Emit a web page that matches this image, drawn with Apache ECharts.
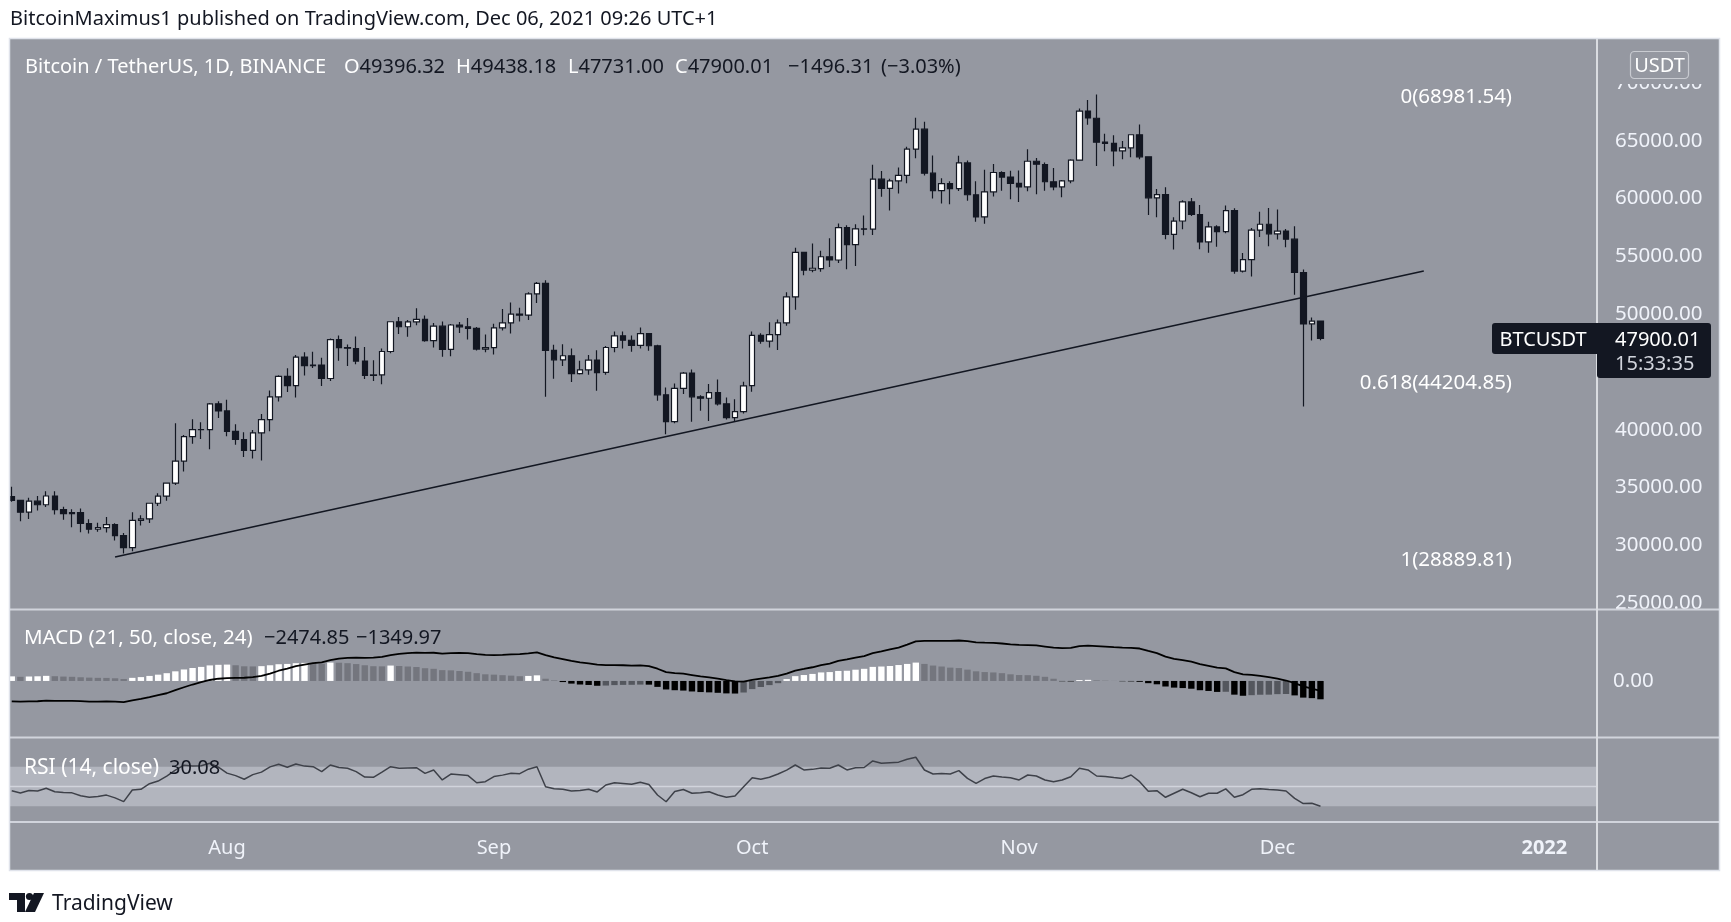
<!DOCTYPE html>
<html>
<head>
<meta charset="utf-8">
<script src="https://cdn.jsdelivr.net/npm/echarts@6/dist/echarts.min.js"></script>
<style>
html,body{margin:0;padding:0;background:#ffffff;}
#c{width:1731px;height:922px;}
</style>
</head>
<body>
<div id="c"></div>
<script>
// ---------------- DATA ----------------
const firstDay = '2021-07-07';
const lastAxisDay = '2022-01-06';

const opens = [
34198,33876,32862,33815,33502,34259,33086,32730,32820,31874,31383,31521,31778,30839,29790,32144,32287,33635,34258,35381,37277,39406,39996,40008,42236,
41626,39846,39148,38208,39723,40868,42836,44614,43819,46281,45543,45596,44428,47793,47096,47019,45936,44686,44741,46763,49339,48905,49321,49546,47706,48960,46942,49058,48897,48767,46970,
47100,48810,49246,50000,49918,51756,52666,46868,46048,46396,44842,45174,46025,44960,47111,48122,47737,47299,48307,47261,43012,40694,43575,44895,42840,42717,43208,42236,41034,41564,
43820,48165,47657,48233,49245,51493,55339,53802,53929,54953,54683,57485,56005,57367,57347,61672,60875,61528,62005,64280,66002,62194,60689,61287,60853,63078,60329,58414,60576,62253,61860,
61320,61005,63227,62944,61454,61007,61528,63326,67566,66947,64882,64775,64123,64380,65520,63610,60059,60345,56892,58057,59708,58617,56247,57541,57138,58960,53723,54716,57274,57776,
56950,57184,56484,53601,49152,49396.32];
const highs = [
35059,33929,34100,34262,34666,34679,33340,33114,33185,32249,31936,32436,31899,31063,32859,32591,33650,34500,35398,40550,39542,40900,40640,42317,42449,
42599,40459,39780,39969,41350,43392,44700,45310,46454,46700,46743,46218,47886,48144,47372,48053,47160,46000,47033,49382,49757,49500,50500,49875,49229,49368,49150,49309,49666,48888,48246,
49156,50450,51000,50558,51900,52780,52920,47340,47399,47033,45969,46460,46876,47250,48500,48500,48150,48843,48373,47345,43639,44000,45000,45200,42970,43950,44350,42790,42636,44141,
48495,48336,49300,49530,51886,55750,55339,56100,55489,56561,57839,57680,57777,58532,62933,62378,61718,62695,64486,67000,66639,63732,61747,61500,63710,63293,61496,62499,62980,62359,62405,
62419,64270,63500,63123,62638,61600,63400,67789,68530,69000,65600,65473,64990,65550,66401,63610,60833,60977,58373,59846,60050,59444,58000,57700,59398,59150,55280,57445,58865,59176,
59053,57375,57600,53859,49700,49438.18];
const lows = [
33773,32077,32261,33004,33306,32658,32202,31550,31133,31020,31164,31109,30408,29278,29482,31708,31925,33401,33851,35205,36384,38772,39201,38313,41000,
39422,38690,37642,37508,37332,39853,42446,43261,42779,44689,45341,43771,44217,45971,45500,45660,44376,44203,43927,46622,48280,48050,49029,47600,47119,46315,46360,48371,47800,46853,46700,
46512,48584,48316,49370,49500,50969,42843,44412,45513,44132,44770,44743,43370,44750,46700,47029,46750,47033,46829,42500,39600,40562,43089,40675,41646,40750,42098,40888,40753,41410,
43283,47430,47120,46891,49000,50382,53357,53617,53661,54080,54415,53879,54167,56818,56850,60150,58963,60445,61322,63481,62000,60000,59562,59510,60650,59817,58000,57820,60174,60673,59945,
59695,60624,60382,60677,60721,60111,61322,63303,66382,62822,64100,62788,63410,63577,63400,58575,58373,56474,55600,57353,58486,55610,55318,55837,57000,53500,53610,53256,56666,55875,
56458,55777,51680,42000,47727,47731.00];
const closes = [
33876,32862,33815,33502,34259,33086,32730,32820,31880,31383,31521,31778,30839,29790,32144,32287,33635,34258,35381,37277,39406,39996,40008,42236,41626,
39846,39148,38207,39723,40868,42836,44614,43819,46286,45543,45596,44428,47793,47096,47047,45936,44686,44742,46763,49339,48905,49321,49546,47706,48960,46942,49058,48897,48767,46971,47100,
48810,49246,49999,49915,51756,52663,46863,46048,46395,44850,45173,46025,44940,47111,48121,47737,47300,48314,47260,43012,40693,43575,44895,42840,42717,43208,42235,41034,41564,43790,
48165,47657,48233,49246,51493,55340,53805,53967,54963,54691,57484,56006,57367,57347,61672,60875,61528,62009,64280,66001,62194,60689,61287,60853,63078,60329,58413,60576,62253,61859,61318,
61004,63226,62971,61453,61005,61528,63327,67567,66971,64882,64774,64122,64381,65520,63607,60059,60345,56892,58052,59708,58622,56247,57541,57138,58960,53726,54721,57274,57776,56950,
57184,56480,53601,49152,49396.32,47900.01];

// MACD (21, 50, close, 24)
const macdHist = [
620,560,600,630,690,640,590,560,500,450,420,410,360,260,420,520,680,850,1050,1300,1550,1750,1900,2100,2180,
2210,2120,1980,1960,2000,2120,2260,2300,2400,2440,2420,2330,2480,2460,2400,2280,2120,1990,1970,2080,2020,1950,1880,1720,1640,1460,1430,1340,1240,1050,900,
850,780,720,640,680,760,300,80,-150,-360,-480,-540,-650,-620,-560,-530,-520,-490,-500,-800,-1150,-1250,-1300,-1420,-1500,-1540,-1600,-1680,-1700,-1560,
-1100,-820,-560,-300,250,650,800,950,1150,1200,1350,1380,1520,1640,1900,1950,2020,2150,2300,2480,2300,2080,1950,1800,1740,1530,1300,1200,1150,1050,900,
800,780,700,560,300,-40,-60,120,150,80,40,10,-40,-60,-120,-300,-450,-750,-900,-960,-1050,-1250,-1350,-1480,-1460,-1850,-2000,-1920,-1860,-1850,
-1780,-1760,-1950,-2250,-2320,-2474.85];
const macdLine = [
-2750,-2800,-2760,-2740,-2660,-2680,-2700,-2690,-2730,-2780,-2790,-2760,-2780,-2850,-2620,-2430,-2180,-1920,-1660,-1250,-850,-480,-170,130,300,
380,420,430,520,680,980,1380,1660,2000,2200,2400,2500,2800,3020,3120,3150,3130,3150,3250,3500,3650,3760,3830,3800,3810,3700,3750,3780,3760,3620,3520,
3500,3520,3580,3620,3720,3850,3500,3180,2950,2700,2500,2380,2200,2150,2150,2120,2080,2100,2000,1650,1200,1050,980,800,620,480,300,100,-60,-80,
150,320,480,680,1000,1400,1620,1850,2150,2350,2700,2900,3150,3350,3750,3980,4250,4500,4900,5350,5420,5400,5420,5400,5460,5380,5200,5170,5150,5060,4950,
4860,4850,4800,4650,4500,4420,4480,4700,4760,4700,4640,4560,4500,4480,4380,4050,3750,3280,2980,2800,2600,2280,2050,1800,1700,1200,900,820,700,520,
320,60,-300,-720,-1050,-1349.97];
// RSI (14, close)
const rsiValues = [
45.8,43.5,46.0,45.5,48.2,44.7,43.9,43.6,40.6,39.2,39.8,41.3,38.5,34.7,46.5,47.2,52.8,55.5,60.5,66.5,71.5,70.8,71.0,73.5,69.5,
63.5,61.0,57.3,62.0,64.5,69.8,72.4,69.5,72.8,70.6,70.0,65.0,71.7,69.2,68.4,65.0,59.5,59.3,64.5,70.0,68.4,68.8,69.0,63.3,66.7,56.6,62.6,61.8,61.0,53.8,54.9,
60.0,61.5,63.3,63.0,67.5,70.0,49.8,47.8,47.2,45.5,46.0,47.2,44.5,51.5,53.8,53.0,52.2,54.2,52.0,41.4,34.6,45.0,47.0,43.2,43.7,44.7,41.4,39.1,40.4,49.8,
58.9,57.3,59.3,62.6,66.5,71.7,66.7,67.3,68.8,68.4,71.7,66.7,69.0,69.2,75.8,73.4,74.1,74.6,77.5,79.5,66.7,62.6,63.2,62.6,66.0,58.2,53.2,58.0,60.6,59.6,58.9,
56.6,61.6,60.6,56.6,54.9,56.5,59.9,68.4,66.7,60.6,60.2,59.0,58.2,61.6,54.9,45.1,45.8,39.1,43.2,47.2,43.7,39.7,43.2,43.2,47.6,39.1,41.7,47.2,47.8,46.9,
46.5,45.5,38.0,32.8,33.0,30.08];

const monthLabels = {'2021-08-01':'Aug','2021-09-01':'Sep','2021-10-01':'Oct','2021-11-01':'Nov','2021-12-01':'Dec','2022-01-01':'2022'};
const yearLabels = ['2022'];
const hiddenPriceTicks = [20000, 75000];
const fibLevels = [{ratio:'0', price:68981.54},{ratio:'0.618', price:44204.85},{ratio:'1', price:28889.81}];
const fibAnchorDay = '2021-12-29';
const trendLine = [['2021-07-19', 28981], ['2021-12-18', 53730]];
const rsiBand = [30, 50, 70];
const countdownText = '15:33:35';

// ---------------- BUILD ----------------
const categories = [];
for (let t = Date.parse(firstDay + 'T00:00:00Z'); t <= Date.parse(lastAxisDay + 'T00:00:00Z'); t += 86400000) {
  categories.push(new Date(t).toISOString().slice(0, 10));
}
const candleData = opens.map((o, i) => [o, closes[i], lows[i], highs[i]]);
function histColor(i) {
  const v = macdHist[i], p = i > 0 ? macdHist[i - 1] : -Infinity;
  if (v >= 0) return v >= p ? '#FFFFFF' : '#74767E';
  return v < p ? '#000000' : '#54575E';
}
const histData = macdHist.map((v, i) => ({value: v, itemStyle: {color: histColor(i)}}));

const FONT = '"Noto Sans", sans-serif';
const WHITE = '#FFFFFF';
const LBL = '#F0F3FA';
const DARK = '#131722';
const BG = '#9598A1';
const LINE = '#D1D4DC';
const GL = 7.45, GW = 184 * 8.61;

const chart = echarts.init(document.getElementById('c'));
const hiddenAxis = {axisLine:{show:false}, axisTick:{show:false}, axisLabel:{show:false}, splitLine:{show:false}};

chart.setOption({
  animation: false,
  backgroundColor: '#ffffff',
  grid: [
    {left: GL, width: GW, top: 25.2, height: 635.6},
    {left: GL, width: GW, top: 606.9, height: 133.3},
    {left: GL, width: GW, top: 737, height: 85}
  ],
  xAxis: [
    Object.assign({type:'category', gridIndex:0, data:categories, boundaryGap:true}, hiddenAxis),
    Object.assign({type:'category', gridIndex:1, data:categories, boundaryGap:true}, hiddenAxis),
    {type:'category', gridIndex:2, data:categories, boundaryGap:true,
     axisLine:{show:false}, axisTick:{show:false}, splitLine:{show:false},
     axisLabel:{show:true, interval:(idx, val) => !!monthLabels[val],
       formatter:(val) => { const s = monthLabels[val] || ''; return yearLabels.indexOf(s) >= 0 ? '{b|' + s + '}' : s; },
       rich:{b:{fontWeight:'bold', color:LBL, fontSize:20, fontFamily:FONT}},
       color: LBL, fontSize: 20, fontFamily: FONT, margin: 26, verticalAlign: 'middle'}}
  ],
  yAxis: [
    {type:'value', gridIndex:0, position:'right', min:20000, max:75000, interval:5000,
     axisLine:{show:false}, axisTick:{show:false}, splitLine:{show:false},
     axisLabel:{margin:23.3, color:LBL, fontSize:20.5, fontFamily:FONT, padding:[4,0,0,0],
       formatter:(v) => hiddenPriceTicks.indexOf(v) >= 0 ? '' : v.toFixed(2)}},
    {type:'value', gridIndex:1, position:'right', min:-8000, max:10000, interval:2000,
     axisLine:{show:false}, axisTick:{show:false}, splitLine:{show:false},
     axisLabel:{margin:21.3, color:LBL, fontSize:20.5, fontFamily:FONT, padding:[4,0,0,0],
       formatter:(v) => v === 0 ? '0.00' : ''}},
    Object.assign({type:'value', gridIndex:2, min:14.14, max:100}, hiddenAxis)
  ],
  series: [
    {type:'candlestick', xAxisIndex:0, yAxisIndex:0, data:candleData, barWidth:6, z:2,
     itemStyle:{color:'#FFFFFF', color0:DARK, borderColor:DARK, borderColor0:DARK, borderColorDoji:DARK, borderWidth:1.2}},
    {type:'line', xAxisIndex:0, yAxisIndex:0, data:trendLine, symbol:'none', silent:true, z:3,
     lineStyle:{color:DARK, width:1.6},
     markPoint:{symbol:'circle', symbolSize:1, silent:true, itemStyle:{color:'rgba(0,0,0,0)'},
       label:{show:true, position:'left', distance:6, offset:[0,2], color:WHITE, fontSize:20.5, fontFamily:FONT},
       data: fibLevels.map(f => ({coord:[fibAnchorDay, f.price], label:{formatter: f.ratio + '(' + f.price.toFixed(2) + ')'}}))}},
    {type:'bar', xAxisIndex:1, yAxisIndex:1, data:histData, barWidth:'74%', z:2},
    {type:'line', xAxisIndex:1, yAxisIndex:1, data:macdLine, symbol:'none', silent:true, z:3,
     lineStyle:{color:'#000000', width:1.8}},
    {type:'line', xAxisIndex:2, yAxisIndex:2, data:rsiValues, symbol:'none', silent:true, z:3,
     lineStyle:{color:'#3E4149', width:1.5}}
  ]
});

// ---------------- OVERLAYS ----------------
const n = closes.length;
const lastClose = closes[n - 1];
const chg = lastClose - closes[n - 2];
const chgPct = chg / closes[n - 2] * 100;
const fmtSigned = (v, d) => (v < 0 ? '\u2212' : '+') + Math.abs(v).toFixed(d);
const fmtMinus = (v, d) => (v < 0 ? '\u2212' : '') + Math.abs(v).toFixed(d);

const yP = chart.convertToPixel({yAxisIndex:0}, lastClose);
const y70 = chart.convertToPixel({yAxisIndex:2}, rsiBand[2]);
const y50 = chart.convertToPixel({yAxisIndex:2}, rsiBand[1]);
const y30 = chart.convertToPixel({yAxisIndex:2}, rsiBand[0]);

const txt = (x, y, text, fill, size, extra) => ({type:'text', x, y, z:80, silent:true,
  style:Object.assign({text, fill, font:(size || 20) + 'px ' + FONT, verticalAlign:'middle', align:'left'}, extra || {})});
const rich = (x, y, text, size) => ({type:'text', x, y, z:80, silent:true,
  style:{text, font:size + 'px ' + FONT, verticalAlign:'middle', align:'left',
    rich:{w:{fill:WHITE, font:size + 'px ' + FONT}, d:{fill:DARK, font:size + 'px ' + FONT}}}});

const graphics = [
  // frame background
  {type:'rect', z:-20, silent:true, shape:{x:9.5, y:38.5, width:1710, height:832}, style:{fill:BG, stroke:null}},
  // RSI band
  {type:'rect', z:-15, silent:true, shape:{x:10, y:y70, width:1587, height:y30 - y70}, style:{fill:'#B2B5BE'}},
  {type:'line', z:-14, silent:true, shape:{x1:10, y1:y50, x2:1597, y2:y50}, style:{stroke:LINE, lineWidth:1.6}},
  // left white cut
  {type:'rect', z:90, silent:true, shape:{x:0, y:38, width:9.5, height:834}, style:{fill:'#ffffff'}},
  // pane separators
  {type:'line', z:70, silent:true, shape:{x1:10, y1:609.5, x2:1719, y2:609.5}, style:{stroke:LINE, lineWidth:2}},
  {type:'line', z:70, silent:true, shape:{x1:10, y1:737.5, x2:1719, y2:737.5}, style:{stroke:LINE, lineWidth:2}},
  {type:'line', z:70, silent:true, shape:{x1:10, y1:822, x2:1719, y2:822}, style:{stroke:LINE, lineWidth:2}},
  {type:'line', z:70, silent:true, shape:{x1:1597, y1:38.5, x2:1597, y2:870}, style:{stroke:'#DADCE1', lineWidth:2}},
  // frame border
  {type:'rect', z:91, silent:true, shape:{x:9.5, y:38.5, width:1710, height:832}, style:{fill:null, stroke:'#E0E3EB', lineWidth:1.5}},
  // USDT button (covers top of 70000 label)
  {type:'rect', z:75, silent:true, shape:{x:1606, y:41, width:108, height:43}, style:{fill:BG}},
  {type:'rect', z:76, silent:true, shape:{x:1630.5, y:51.5, width:58, height:27, r:4}, style:{fill:BG, stroke:'#C9CBD1', lineWidth:1.2}},
  txt(1659.5, 66, 'USDT', WHITE, 20, {align:'center'}),
  // price tag
  {type:'rect', z:78, silent:true, shape:{x:1492, y:yP - 15.5, width:106, height:31, r:[3,0,0,3]}, style:{fill:DARK}},
  {type:'rect', z:78, silent:true, shape:{x:1597, y:yP - 15.5, width:114, height:55, r:[0,3,3,3]}, style:{fill:DARK}},
  txt(1543, yP + 1.5, 'BTCUSDT', WHITE, 20, {align:'center'}),
  txt(1615, yP + 1.5, lastClose.toFixed(2), WHITE, 20),
  txt(1615, yP + 26, countdownText, '#D1D4DC', 20),
  // header
  txt(10, 19, 'BitcoinMaximus1 published on TradingView.com, Dec 06, 2021 09:26 UTC+1', DARK, 20),
  // main legend
  txt(25, 67, 'Bitcoin / TetherUS, 1D, BINANCE', WHITE, 20),
  rich(344, 67, '{w|O}{d|' + opens[n - 1].toFixed(2) + '}', 20),
  rich(456, 67, '{w|H}{d|' + highs[n - 1].toFixed(2) + '}', 20),
  rich(568, 67, '{w|L}{d|' + lows[n - 1].toFixed(2) + '}', 20),
  rich(675, 67, '{w|C}{d|' + lastClose.toFixed(2) + '}', 20),
  txt(788, 67, fmtSigned(chg, 2), DARK, 20),
  txt(881, 67, '(' + fmtSigned(chgPct, 2) + '%)', DARK, 20),
  // MACD legend
  txt(24, 638.5, 'MACD (21, 50, close, 24)', WHITE, 20.5),
  txt(264, 638.5, fmtMinus(macdHist[n - 1], 2), DARK, 20),
  txt(356, 638.5, fmtMinus(macdLine[n - 1], 2), DARK, 20),
  // RSI legend
  txt(24, 768.5, 'RSI (14, close)', WHITE, 21),
  txt(169, 768.5, rsiValues[n - 1].toFixed(2), DARK, 20),
  // footer logo
  {type:'rect', z:80, silent:true, shape:{x:9, y:893, width:16, height:7}, style:{fill:DARK}},
  {type:'rect', z:80, silent:true, shape:{x:17, y:893, width:8, height:19}, style:{fill:DARK}},
  {type:'circle', z:80, silent:true, shape:{cx:29.5, cy:896.5, r:3.6}, style:{fill:DARK}},
  {type:'polygon', z:80, silent:true, shape:{points:[[34,893],[44,893],[35,912],[25,912]]}, style:{fill:DARK}},
  txt(52, 904, 'TradingView', DARK, 21)
];
chart.setOption({graphic: graphics});
</script>
</body>
</html>
